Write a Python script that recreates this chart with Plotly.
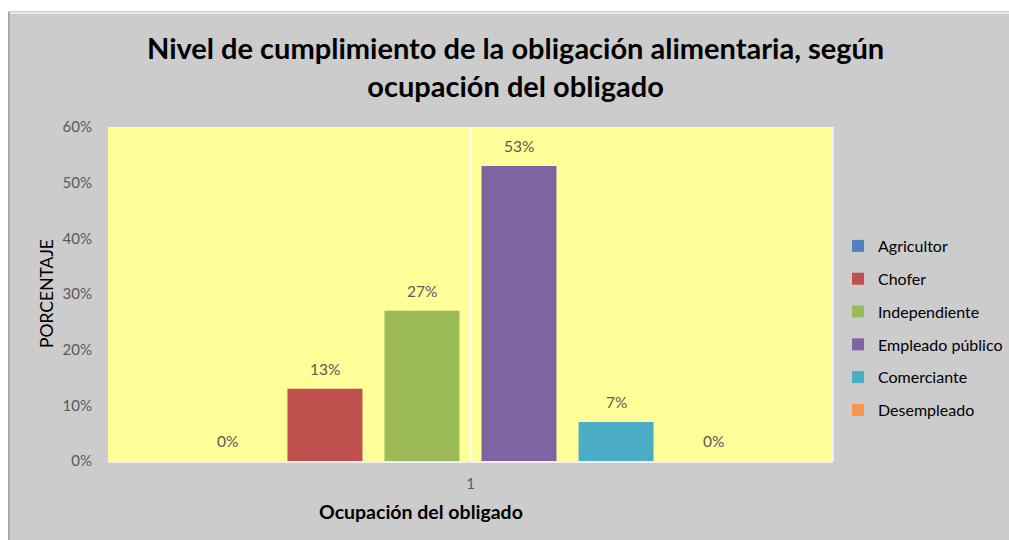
import plotly.graph_objects as go

categories = ["1"]
series_names = ["Agricultor", "Chofer", "Independiente", "Empleado público", "Comerciante", "Desempleado"]
series_values = [0.0, 0.13, 0.27, 0.53, 0.07, 0.0]
series_colors = ["#4F81BD", "#C0504D", "#9BBB59", "#8064A2", "#4BACC6", "#F79646"]
y_ticks = [0, 0.1, 0.2, 0.3, 0.4, 0.5, 0.6]

FONT = "Lato"
BARGAP = 0.197
GROUPGAP = 0.227

fig = go.Figure()
for i, (name, val, col) in enumerate(zip(series_names, series_values, series_colors)):
    fig.add_trace(go.Bar(
        x=categories, y=[val], name=name, marker=dict(color=col, line=dict(width=0)),
        legendgroup=name,
    ))

# data labels above each bar
n = len(series_names)
slot = (1 - BARGAP) / n
for i, val in enumerate(series_values):
    xc = -0.5 * (1 - BARGAP) + (i + 0.5) * slot
    fig.add_annotation(
        x=xc, y=val, xref="x", yref="y", text=f"{round(val*100)}%",
        showarrow=False, yanchor="middle", xanchor="center", yshift=20,
        font=dict(family=FONT, size=15.5, color="#595959"),
    )

W, H = 1009, 540
L, R, T, B = 108, 176, 127, 79
pw, ph = W - L - R, H - T - B

def px(x):
    return (x - L) / pw

def py(y):
    return (H - B - y) / ph

# outer frame: white strip at top and left, with bevel lines
fig.add_shape(type="rect", xref="paper", yref="paper", x0=px(-2), x1=px(W + 2), y0=py(11), y1=py(-2),
              fillcolor="white", line=dict(width=0), layer="below")
fig.add_shape(type="rect", xref="paper", yref="paper", x0=px(-2), x1=px(8), y0=py(H + 2), y1=py(-2),
              fillcolor="white", line=dict(width=0), layer="below")
fig.add_shape(type="line", xref="paper", yref="paper", x0=px(8), x1=px(W + 2), y0=py(13), y1=py(13),
              line=dict(color="#e6e6e6", width=2), layer="below")
fig.add_shape(type="line", xref="paper", yref="paper", x0=px(9), x1=px(9), y0=py(12), y1=py(H + 2),
              line=dict(color="#aaaaaa", width=2), layer="below")
# right edge of plot area
fig.add_shape(type="line", xref="paper", yref="paper", x0=1, x1=1, y0=0, y1=1,
              line=dict(color="#f0f0f0", width=2))

# title
fig.add_annotation(x=px(515), y=py(67), xref="paper", yref="paper", showarrow=False,
                   text="<b>Nivel de cumplimiento de la obligación alimentaria, según<br>ocupación del obligado</b>",
                   font=dict(family=FONT, size=29, color="#000000"), align="center",
                   xanchor="center", yanchor="middle")
# y axis title
fig.add_annotation(x=px(46), y=py(294), xref="paper", yref="paper", showarrow=False, textangle=-90,
                   xanchor="center", yanchor="middle",
                   text="PORCENTAJE", font=dict(family=FONT, size=17.5, color="#000000"))
# x axis title
fig.add_annotation(x=px(421), y=py(511), xref="paper", yref="paper", showarrow=False,
                   xanchor="center", yanchor="middle",
                   text="<b>Ocupación del obligado</b>", font=dict(family=FONT, size=19.5, color="#000000"))

fig.update_layout(
    width=W, height=H,
    margin=dict(l=L, r=R, t=T, b=B, autoexpand=False),
    paper_bgcolor="#CCCCCC", plot_bgcolor="#FFFF99",
    barmode="group", bargap=BARGAP, bargroupgap=GROUPGAP,
    font=dict(family=FONT),
    showlegend=True,
    legend=dict(x=px(838), y=py(229), xanchor="left", yanchor="top", bgcolor="rgba(0,0,0,0)",
                font=dict(family=FONT, size=16, color="#000000"), tracegroupgap=9, itemwidth=30),
    xaxis=dict(type="category", showgrid=True, gridcolor="white", gridwidth=2,
               showline=True, linecolor="#f0f0f0", linewidth=2,
               ticks="outside", ticklen=8, tickcolor="rgba(0,0,0,0)",
               tickfont=dict(family=FONT, size=15, color="#595959"), zeroline=False),
    yaxis=dict(range=[0, 0.6], tickvals=y_ticks, tickformat=".0%", showgrid=False, zeroline=False,
               ticks="outside", ticklen=12, tickcolor="rgba(0,0,0,0)",
               tickfont=dict(family=FONT, size=15, color="#595959")),
)

fig.write_html("out.html")
